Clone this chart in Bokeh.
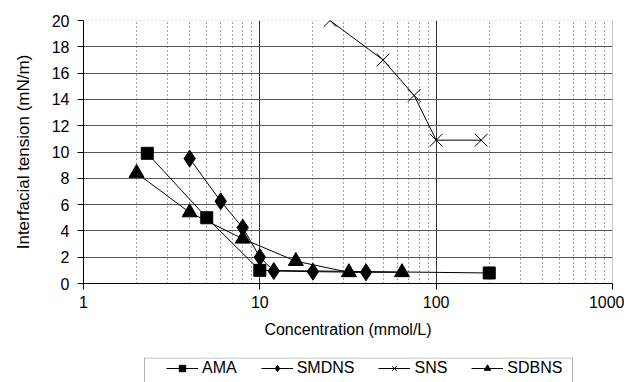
from bokeh.plotting import figure
from bokeh.models import (FixedTicker, PrintfTickFormatter, Legend, LegendItem, Span,
                          BoxAnnotation)
from bokeh.layouts import column
from bokeh.embed import file_html
from bokeh.resources import INLINE

ama_x = [2.3, 5, 10, 200]
ama_y = [9.9, 5.0, 1.0, 0.8]
smdns_x = [4, 6, 8, 10, 12, 20, 40]
smdns_y = [9.5, 6.25, 4.25, 2.0, 0.95, 0.9, 0.85]
sns_x = [25, 50, 75, 100, 180]
sns_y = [20.0, 17.0, 14.3, 10.9, 10.9]
sdbns_x = [2, 4, 8, 16, 32, 64]
sdbns_y = [8.4, 5.4, 3.4, 1.7, 0.85, 0.85]

series_names = ["AMA", "SMDNS", "SNS", "SDBNS"]
markers = ["square", "diamond", "x", "triangle"]
marker_sizes = [12, 17, 18, 15]

x_major = [1, 10, 100, 1000]
x_minor = [m * d for d in (1, 10, 100) for m in range(2, 10)]
y_ticks = list(range(0, 21, 2))

FONT = "Liberation Sans"

p = figure(x_axis_type="log", x_range=(1, 1000), y_range=(0, 20),
           frame_width=529, frame_height=263,
           min_border_left=83, min_border_top=20, min_border_right=12,
           min_border_bottom=74,
           output_backend="svg", toolbar_location=None,
           background_fill_color="white", border_fill_color="white")
p.outline_line_color = None

xt = FixedTicker(ticks=x_major, minor_ticks=x_minor)
p.xaxis.ticker = xt
p.xgrid.ticker = xt
p.xaxis.formatter = PrintfTickFormatter(format="%d")
p.yaxis.ticker = FixedTicker(ticks=y_ticks)
p.ygrid.ticker = FixedTicker(ticks=y_ticks[:-1])

p.xgrid.grid_line_color = "#333333"
p.xgrid.grid_line_width = 1
p.xgrid.minor_grid_line_color = "#444444"
p.xgrid.minor_grid_line_dash = "1 3"
p.ygrid.grid_line_color = "#555555"
p.ygrid.grid_line_width = 1
p.add_layout(Span(location=20, dimension="width", line_color="#999999",
                  line_dash="1 3", line_width=1))
p.add_layout(Span(location=1000, dimension="height", line_color="#888888",
                  line_width=1))

for ax in (p.xaxis[0], p.yaxis[0]):
    ax.axis_line_color = "black"
    ax.major_tick_line_color = "black"
    ax.major_tick_out = 6
    ax.major_tick_in = 0
    ax.minor_tick_line_color = None
    ax.major_label_text_font = FONT
    ax.major_label_text_font_size = "16px"
    ax.major_label_text_color = "black"
    ax.axis_label_text_font = FONT
    ax.axis_label_text_font_size = "16px"
    ax.axis_label_text_font_style = "normal"
    ax.axis_label_text_color = "black"

p.xaxis.axis_label = "Concentration (mmol/L)"
p.yaxis.axis_label = "Interfacial tension (mN/m)"
p.yaxis.axis_label_text_font_size = "17px"
p.xaxis.major_label_standoff = 6
p.xaxis.axis_label_standoff = 10
p.yaxis.major_label_standoff = 8
p.yaxis.axis_label_standoff = 16

data = [(ama_x, ama_y), (smdns_x, smdns_y), (sns_x, sns_y), (sdbns_x, sdbns_y)]
for (xs, ys), mk, sz in zip(data, markers, marker_sizes):
    p.line(xs, ys, line_color="black", line_width=1)
    p.scatter(xs, ys, marker=mk, size=sz, line_color="black",
              fill_color="black", line_width=1)

# legend strip below the chart (same borders as the chart so frames align)
lg = figure(frame_width=529, frame_height=30, x_range=(0, 529), y_range=(100, 130),
            min_border_left=83, min_border_right=12,
            min_border_top=0, min_border_bottom=0,
            output_backend="svg", toolbar_location=None,
            background_fill_color="white", border_fill_color="white")
lg.axis.visible = False
lg.grid.visible = False
lg.outline_line_color = None

items = []
for name, mk, (xs, ys) in zip(series_names, markers, data):
    # series drawn far outside this strip's range: only their legend glyphs show
    lr = lg.line(xs, ys, line_color="black", line_width=1)
    sr = lg.scatter(xs, ys, marker=mk, size=8, line_color="black",
                    fill_color="black", line_width=1)
    items.append(LegendItem(label=name, renderers=[lr, sr]))

lg.add_layout(BoxAnnotation(left=61, right=489, bottom=90, top=129.5,
                            fill_alpha=0, line_color="black", line_width=1))

legend = Legend(items=items, orientation="horizontal", location=(83, 10),
                label_text_font=FONT, label_text_font_size="16px",
                label_text_color="black",
                glyph_width=32, glyph_height=16, spacing=24, padding=2,
                label_standoff=4, margin=0,
                border_line_color=None, background_fill_alpha=0)
lg.add_layout(legend, "center")

layout = column(p, lg, spacing=0)
open("out.html", "w").write(file_html(layout, INLINE))
